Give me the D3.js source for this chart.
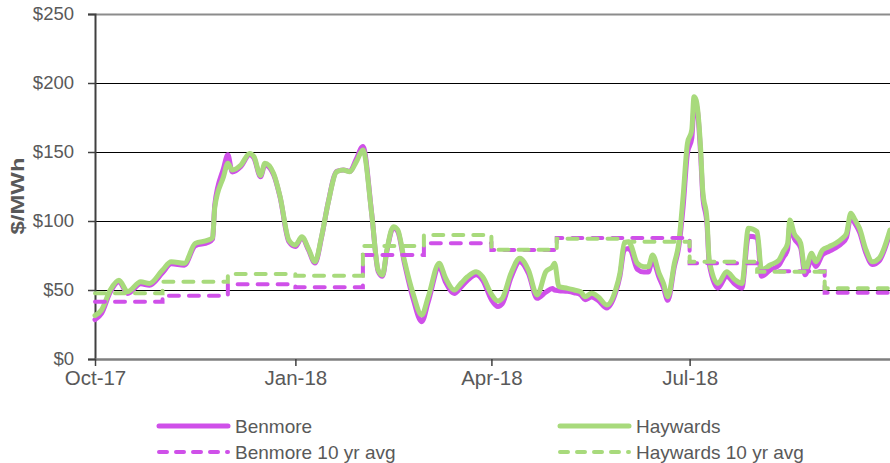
<!DOCTYPE html>
<html>
<head>
<meta charset="utf-8">
<script src="https://cdn.jsdelivr.net/npm/d3@7/dist/d3.min.js"></script>
<style>
  html, body { margin: 0; padding: 0; background: #fff; }
  svg { display: block; }
  text { font-family: "Liberation Sans", Arial, sans-serif; fill: #595959; }
</style>
</head>
<body>
<svg id="chart" width="890" height="463"></svg>
<script>
// Day index since 1 Oct 2017
const days = [0,3,7,11,15,21,25,31,35,41,46,52,54,55,59,61,63,67,71,73,76,78,82,85,89,92,95,98,101,104,107,111,114,117,120,123,127,130,132,134,137,139,142,146,150,153,158,161,165,168,171,175,178,182,185,187,191,195,199,203,207,210,211,213,217,220,223,225,228,231,235,239,241,243,245,246,249,252,254,256,259,261,263,266,268,270,272,274,275,276,278,279,281,282,286,290,294,297,300,304,306,310,314,316,318,319,321,324,326,329,331,334,337,340,343,345,347,349,351,354,357,360,365];

const haywards = [31.5,35.5,50,57,48.8,56,54.8,64.5,70.5,69.3,83.8,86.2,88,110,132,141.8,137,140.6,149,146.6,133,141.8,134.5,117.6,86.2,82.6,88.6,80,70.5,88.6,112.8,135.7,137,135.7,143,151.4,105.6,64.5,60.9,79,95.9,93.5,71.7,47.6,31.9,45,69.3,58.5,50,54.8,59.6,63.3,59.6,47,42,44,62.1,73,64.5,46.4,63.3,66.9,69.3,52.4,51.2,50,48.8,45.1,47.6,45.1,39.1,50,62.1,83.8,85,82.6,69.3,66.9,66.9,75.4,62.1,54.8,45.1,69.3,83.8,117.6,156.3,166,190,187.7,153.8,122.5,100.7,71.7,54.8,63.3,57.2,54.8,94.7,92.2,64.5,68.1,71.7,77.8,83.8,100.7,91,83.8,64.5,76.6,70.5,79,81.4,83.8,87.3,91,105.6,100.7,94.7,79,70.5,73,93.5];

const benmore = [28.5,33,48.5,56,47.5,54.5,53.5,62.5,69,68,82,84.5,87,112,138,148,135.5,139.5,148,145.5,132,140.5,133.5,117,85,81.5,88,79,69.5,88,113,136,137,136,145,154,106,63.5,60,78,95,92.5,70,44,27,41.5,66.5,55.5,47.5,52,57,61,57,43,38,40,59,70.5,62,44,48.5,51,50,49.5,49,48,46.5,43,45,42.5,37,48,60,79,80,78.5,65,63,63,71.5,59,51.5,42.5,67,81,110,149,160,182,184,150,119,97,69,51.5,60,54,51.5,89,88,60,64.5,68,73.5,79.5,97,87.5,80.5,61,72.5,67,75.5,78,80.5,84,88,103,98,92,76.5,68.5,71,91.5];

// 10 year averages, one value per month (Oct-17 .. Sep-18)
const months = ["Oct","Nov","Dec","Jan","Feb","Mar","Apr","May","Jun","Jul","Aug","Sep"];
const monthStartDay = [0,31,61,92,123,151,182,212,243,273,304,335];
const yearEndDay = 365;
const benmoreAvg  = [41.5,45.9,54.1,52,75.4,83.8,79,87.6,87.6,69.3,63.6,48];
const haywardsAvg = [47.6,56,61.6,60.4,81.9,89.9,79.2,87.2,85,70.5,63.3,51.2];

const yTicks = [0,50,100,150,200,250];
const xTickDays = [0,92,182,273];
const xTickLabels = ["Oct-17","Jan-18","Apr-18","Jul-18"];

const seriesNames = ["Benmore","Haywards","Benmore 10 yr avg","Haywards 10 yr avg"];
const purple = "#CF50E9";
const green = "#A8DA7C";

const svg = d3.select("#chart");
const x = d3.scaleLinear().domain([0, yearEndDay]).range([95, 890]);
const y = d3.scaleLinear().domain([0, 250]).range([359, 14]);

// gridlines
svg.append("g").selectAll("line").data(yTicks.filter(t => t > 0)).join("line")
  .attr("x1", 95).attr("x2", 890)
  .attr("y1", d => y(d) + 0.5).attr("y2", d => y(d) + 0.5)
  .attr("stroke", d => d === 250 ? "#8c8c8c" : "#000")
  .attr("stroke-width", d => d === 250 ? 2 : 1);

// y axis
const yAxis = d3.axisLeft(y).tickValues(yTicks).tickFormat(d => "$" + d).tickSize(7).tickPadding(14);
const gy = svg.append("g").attr("transform", "translate(95,0)").call(yAxis);
gy.select(".domain").attr("stroke", "#404040").attr("stroke-width", 2);
gy.selectAll(".tick line").attr("stroke", "#404040").attr("stroke-width", 1.5);
gy.selectAll(".tick text").attr("font-size", 18.5).attr("fill", "#595959")
  .attr("font-family", "'Liberation Sans', Arial, sans-serif");

// x axis
const xAxis = d3.axisBottom(x).tickValues(xTickDays).tickFormat((d, i) => xTickLabels[i]).tickSize(7).tickPadding(4).tickSizeOuter(0);
const gx = svg.append("g").attr("transform", "translate(0,359)").call(xAxis);
gx.select(".domain").attr("stroke", "#7f7f7f").attr("stroke-width", 2.5);
gx.selectAll(".tick line").attr("stroke", "#404040").attr("stroke-width", 1.5);
gx.selectAll(".tick text").attr("font-size", 20.5).attr("fill", "#595959")
  .attr("font-family", "'Liberation Sans', Arial, sans-serif");

// y title
svg.append("text")
  .attr("transform", "translate(24,196) rotate(-90)")
  .attr("text-anchor", "middle")
  .attr("font-size", 19).attr("font-weight", "bold").attr("fill", "#595959")
  .attr("textLength", 77).attr("lengthAdjust", "spacingAndGlyphs")
  .text("$/MWh");

// lines
const line = d3.line().x(d => x(d[0])).y(d => y(d[1])).curve(d3.curveMonotoneX);
const stepLine = d3.line().x(d => x(d[0])).y(d => y(d[1])).curve(d3.curveStepAfter);
const stepPts = arr => monthStartDay.map((m, i) => [m, arr[i]]).concat([[yearEndDay, arr[arr.length - 1]]]);

const plot = svg.append("g");
plot.append("path").attr("d", line(days.map((d, i) => [d, benmore[i]])))
  .attr("fill", "none").attr("stroke", purple).attr("stroke-width", 5)
  .attr("stroke-linejoin", "round").attr("stroke-linecap", "round");
plot.append("path").attr("d", line(days.map((d, i) => [d, haywards[i]])))
  .attr("fill", "none").attr("stroke", green).attr("stroke-width", 5)
  .attr("stroke-linejoin", "round").attr("stroke-linecap", "round");
plot.append("path").attr("d", stepLine(stepPts(benmoreAvg)))
  .attr("fill", "none").attr("stroke", purple).attr("stroke-width", 4)
  .attr("stroke-dasharray", "10,10").attr("stroke-linecap", "round");
plot.append("path").attr("d", stepLine(stepPts(haywardsAvg)))
  .attr("fill", "none").attr("stroke", green).attr("stroke-width", 4)
  .attr("stroke-dasharray", "10,10").attr("stroke-linecap", "round");

// legend
const legendItems = [
  {name: seriesNames[0], color: purple, dash: null, lx: 159, ly: 426},
  {name: seriesNames[1], color: green, dash: null, lx: 560, ly: 426},
  {name: seriesNames[2], color: purple, dash: "8,9", lx: 159, ly: 452},
  {name: seriesNames[3], color: green, dash: "8,9", lx: 560, ly: 452}
];
const lg = svg.append("g").selectAll("g").data(legendItems).join("g");
lg.append("line")
  .attr("x1", d => d.lx).attr("x2", d => d.lx + 69)
  .attr("y1", d => d.ly).attr("y2", d => d.ly)
  .attr("stroke", d => d.color).attr("stroke-width", d => d.dash ? 4 : 5)
  .attr("stroke-linecap", "round")
  .attr("stroke-dasharray", d => d.dash);
lg.append("text")
  .attr("x", d => d.lx + 76).attr("y", d => d.ly + 7)
  .attr("font-size", 19).attr("fill", "#595959")
  .text(d => d.name);
</script>
</body>
</html>
